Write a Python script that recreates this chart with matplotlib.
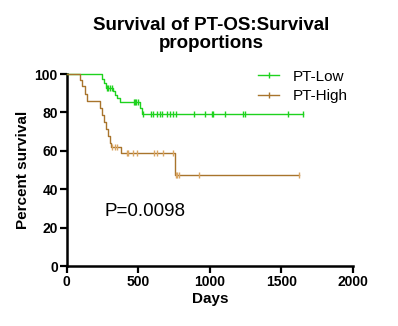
import numpy as np
import matplotlib
matplotlib.use("Agg")
import matplotlib.pyplot as plt

plt.rcParams["font.family"] = ["Liberation Sans", "DejaVu Sans"]

# Kaplan-Meier steps (days, percent surviving after the step)
low_times = [0, 243, 258, 272, 322, 337, 352, 368, 382, 510, 522]
low_surv = [100, 97.6, 95.2, 92.8, 91.0, 89.2, 87.4, 85.6, 85.6, 82.4, 79.2]
low_end = 1652
low_censor = [280, 290, 300, 312, 470, 478, 486, 494,
              534, 585, 604, 631, 650, 662, 701, 720, 739, 760,
              890, 965, 1012, 1019, 1105, 1233, 1245, 1548, 1652]

high_times = [0, 91, 107, 125, 142, 231, 245, 262, 275, 290, 298, 305, 375, 755]
high_surv = [100, 97.0, 93.5, 89.6, 85.7, 82.1, 78.5, 75.0, 71.4, 67.8, 64.2, 61.8, 58.9, 47.4]
high_end = 1622
high_censor = [312, 336, 352, 417, 429, 459, 492, 608, 627, 669, 744,
               760, 770, 785, 923, 1622]

GREEN = "#1ed21e"
BROWN = "#a8742c"
TAN = "#d9a562"


def step_at(times, surv, t):
    idx = np.searchsorted(times, t, side="right") - 1
    return np.array(surv)[idx]


fig = plt.figure(figsize=(3.98, 3.26), dpi=100)
ax = fig.add_axes([0.168, 0.184, 0.719, 0.589])

for times, surv, end, cens, col, tcol, lab in [
    (low_times, low_surv, low_end, low_censor, GREEN, GREEN, "PT-Low"),
    (high_times, high_surv, high_end, high_censor, BROWN, TAN, "PT-High"),
]:
    xs = list(times) + [end]
    ys = list(surv) + [surv[-1]]
    ax.step(xs, ys, where="post", color=col, lw=1.0, clip_on=False, zorder=3)
    ax.plot(cens, step_at(times, surv, cens), ls="none", marker="|", ms=4,
            mew=1.0, color=tcol, clip_on=False, zorder=4)
    ax.plot([], [], color=col, lw=1.0, marker="|", ms=5, mew=1.0, label=lab)

ax.set_xlim(0, 2000)
ax.set_ylim(0, 100)
ax.set_xticks([0, 500, 1000, 1500, 2000])
ax.set_yticks([0, 20, 40, 60, 80, 100])
for s in ["top", "right"]:
    ax.spines[s].set_visible(False)
for s in ["left", "bottom"]:
    ax.spines[s].set_linewidth(1.8)
ax.tick_params(direction="out", length=5, width=1.6, labelsize=10, pad=1.5)
for lbl in ax.get_xticklabels() + ax.get_yticklabels():
    lbl.set_fontweight("bold")

ax.set_xlabel("Days", fontsize=11, fontweight="bold", labelpad=2)
ax.set_ylabel("Percent survival", fontsize=11, fontweight="bold", labelpad=3)

fig.text(0.53, 1 - 30 / 326, "Survival of PT-OS:Survival", ha="center",
         va="baseline", fontsize=13.5, fontweight="bold")
fig.text(0.53, 1 - 48.5 / 326, "proportions", ha="center",
         va="baseline", fontsize=13.5, fontweight="bold")

ax.text(265, 28.5, "P=0.0098", fontsize=13.5, va="center")

leg = ax.legend(loc="upper right", bbox_to_anchor=(1.03, 1.095), frameon=False,
                fontsize=11, handlelength=1.35, handletextpad=0.9,
                labelspacing=0.35)

fig.savefig("out.png", dpi=100)
